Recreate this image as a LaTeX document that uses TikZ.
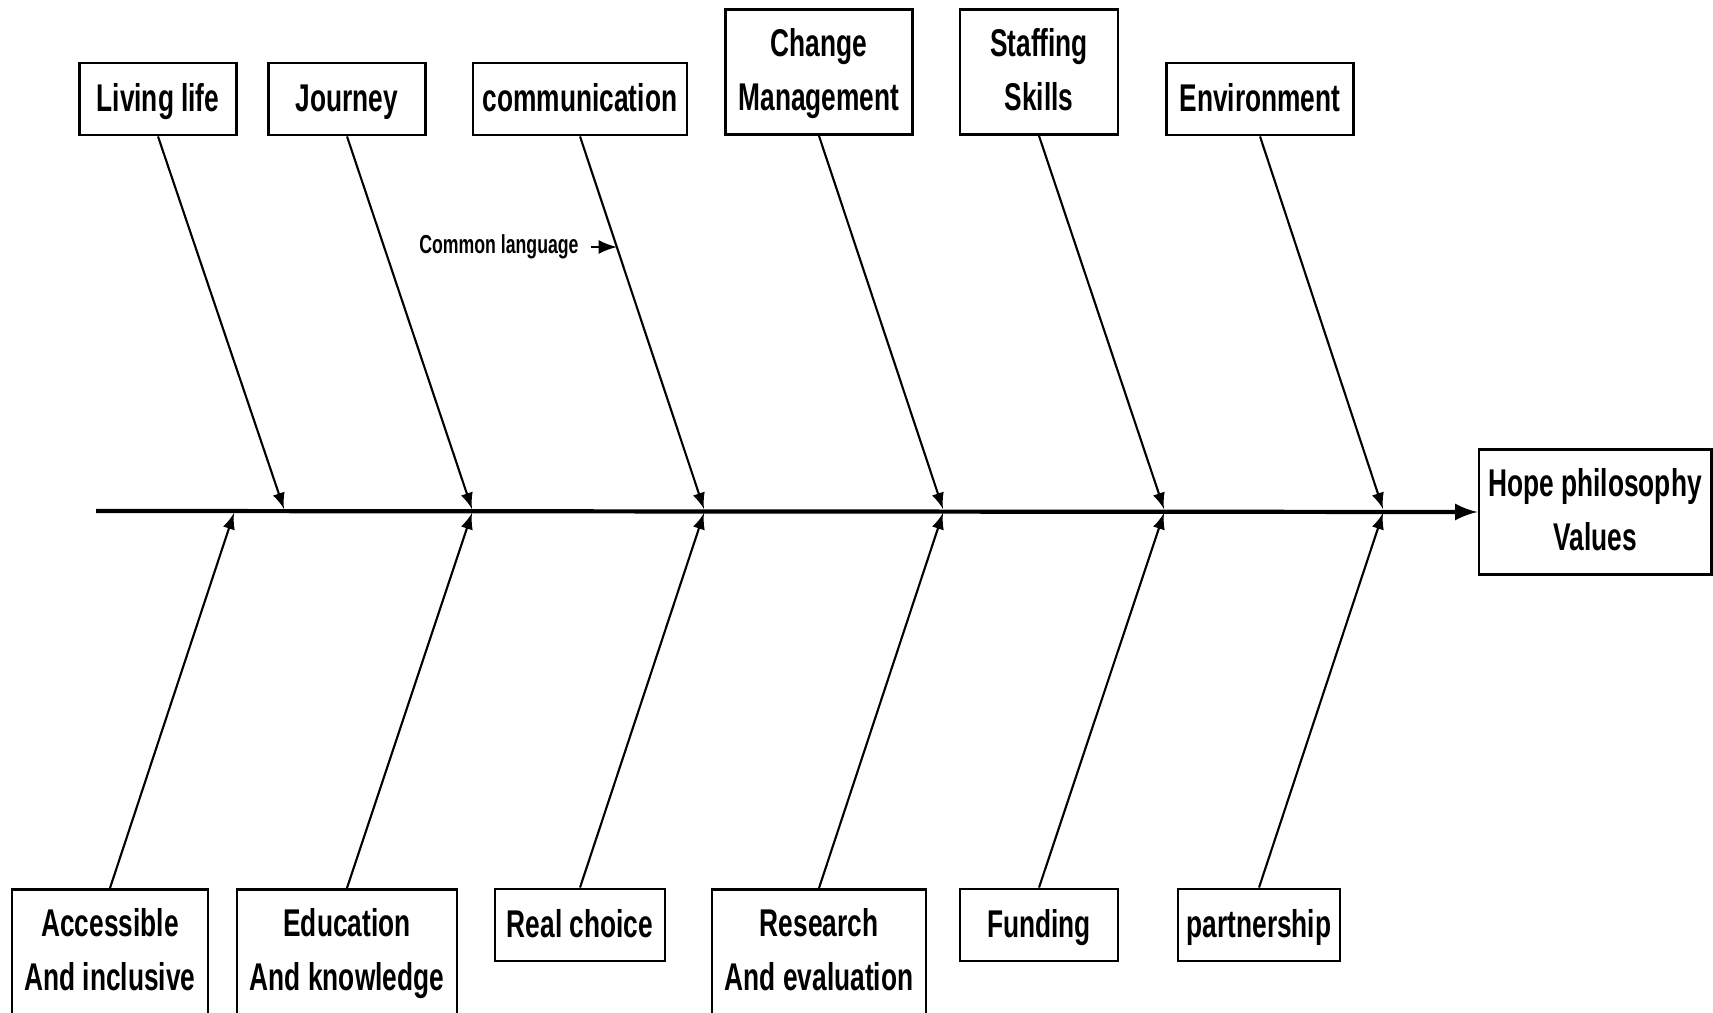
\documentclass[tikz,border=0pt]{standalone}
\usepackage{fontspec}
\setmainfont{Liberation Sans}[FakeStretch=0.68]
\newcommand\causetop{\rule[-4.6pt]{0pt}{16.5pt}}
\newcommand\causebot{\rule[-2.7pt]{0pt}{2.7pt}}
\begin{document}
\begin{tikzpicture}[
				x=0.01cm, y=-0.01cm,
				every node/.style={
						font=\fontsize{11}{15.3}\selectfont\bfseries,
					},
				cause/.style={draw, line width=0.8pt, align=center, inner sep=0pt, minimum height=0.72cm,
						execute at begin node=\causetop, execute at end node=\causebot},
				twoline/.style={cause, minimum height=1.25cm, text height=22pt, text depth=0pt},
				bone/.style={-latex, line width=0.6pt},]
			\useasboundingbox (0,0) rectangle (1713,1013);
			\clip (0,0) rectangle (1713,1013);
			% head and spine
			\node[twoline, minimum width=2.32cm] (hope) at (1595,512) {Hope philosophy\\Values};
			\coordinate (tail) at (96,511);
			\draw [-latex, line width=1.2pt] (tail) -- (hope.west);
			% upper causes
			\node[cause, minimum width=1.57cm] (living) at (158,99) {Living life};
			\node[cause, minimum width=1.57cm] (journey) at (347,99) {Journey};
			\node[cause, minimum width=2.14cm] (communication) at (580,99) {communication};
			\node[twoline, minimum width=1.87cm] (change) at (819,72) {Change\\Management};
			\node[twoline, minimum width=1.58cm] (staffing) at (1039,72) {Staffing\\Skills};
			\node[cause, minimum width=1.87cm] (environment) at (1260,99) {Environment};
			% lower causes
			\node[twoline, minimum width=1.96cm] (accessible) at (110,952) {Accessible\\And inclusive};
			\node[twoline, minimum width=2.20cm] (education) at (347,952) {Education\\And knowledge};
			\node[cause, minimum width=1.70cm] (choice) at (580,925) {Real choice};
			\node[twoline, minimum width=2.14cm] (research) at (819,952) {Research\\And evaluation};
			\node[cause, minimum width=1.58cm] (funding) at (1039,925) {Funding};
			\node[cause, minimum width=1.62cm] (partnership) at (1259,925) {partnership};
			% bones
			\foreach \n/\x in {living/284, journey/472, communication/704, change/943, staffing/1164, environment/1383} {
					\coordinate (\n-end) at (\x,509);
					\draw [bone] (\n.south) -- (\n-end);
				}
			\foreach \n/\x in {accessible/234, education/472, choice/704, research/943, funding/1164, partnership/1383} {
					\coordinate (\n-end) at (\x,513);
					\draw [bone] (\n.north) -- (\n-end);
				}
			% sub cause
			\node[anchor=east, font=\fontsize{7.4}{9}\selectfont\bfseries] (language) at (591,247) {Common language};
			\coordinate (language-end) at (617,247);
			\draw [-latex, line width=0.8pt] (language) -- (language-end);
		\end{tikzpicture}
\end{document}
